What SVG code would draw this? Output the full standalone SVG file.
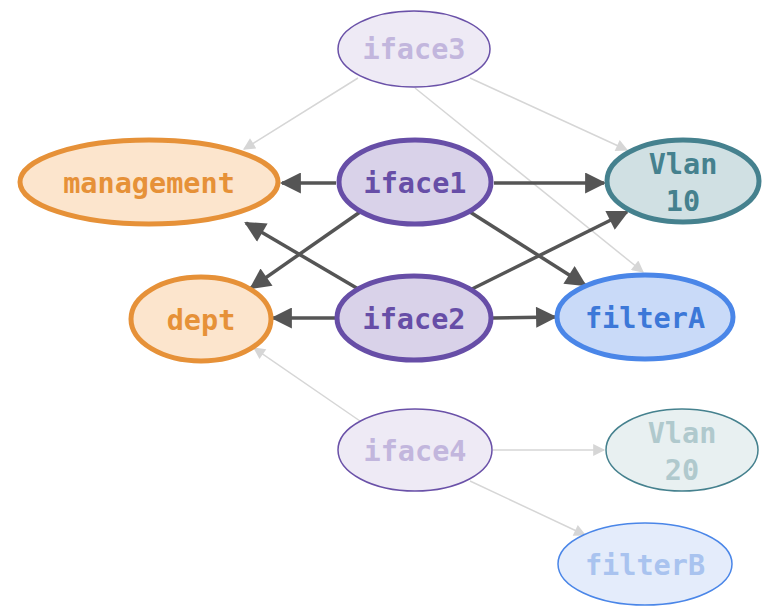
<svg xmlns="http://www.w3.org/2000/svg" width="769" height="607" viewBox="0 0 769 607">
<style>
text{font-family:"DejaVu Sans Mono","Liberation Mono",monospace;font-weight:bold;font-size:28.5px;text-anchor:middle}
.e{stroke:#555;stroke-width:3.5;fill:none}
.l{stroke:#d6d6d6;stroke-width:1.5;fill:none}
</style>
<defs>
<marker id="ad" viewBox="0 0 10 10" refX="9" refY="5" markerWidth="7" markerHeight="6" markerUnits="strokeWidth" orient="auto"><path d="M0,0L10,5L0,10z" fill="#555"/></marker>
<marker id="al" viewBox="0 0 10 10" refX="9" refY="5" markerWidth="10" markerHeight="8" markerUnits="strokeWidth" orient="auto"><path d="M0,0L10,5L0,10z" fill="#d6d6d6"/></marker>
</defs>
<g id="connectors">
<line class="l" x1="358" y1="78" x2="244" y2="149" marker-end="url(#al)"/>
<line class="l" x1="470" y1="78" x2="627" y2="150" marker-end="url(#al)"/>
<line class="l" x1="415" y1="88" x2="643" y2="272" marker-end="url(#al)"/>
<line class="l" x1="360" y1="421" x2="254" y2="348" marker-end="url(#al)"/>
<line class="l" x1="493" y1="450" x2="604" y2="450" marker-end="url(#al)"/>
<line class="l" x1="470" y1="481" x2="585" y2="535" marker-end="url(#al)"/>
<line class="e" x1="336" y1="183" x2="282" y2="183" marker-end="url(#ad)"/>
<line class="e" x1="494" y1="183" x2="604" y2="183" marker-end="url(#ad)"/>
<line class="e" x1="360" y1="212" x2="251" y2="288" marker-end="url(#ad)"/>
<line class="e" x1="470" y1="212" x2="585" y2="285" marker-end="url(#ad)"/>
<line class="e" x1="360" y1="290" x2="246" y2="223" marker-end="url(#ad)"/>
<line class="e" x1="470" y1="290" x2="627" y2="212" marker-end="url(#ad)"/>
<line class="e" x1="336" y1="318" x2="273" y2="318" marker-end="url(#ad)"/>
<line class="e" x1="493" y1="318" x2="555" y2="317" marker-end="url(#ad)"/>
</g>
<g id="iface3"><ellipse cx="414" cy="49" rx="76" ry="38" fill="#eeeaf5" stroke="#6a51a8" stroke-width="1.5"/><text x="414" y="59" fill="#c2b6dd">iface3</text></g>
<g id="management"><ellipse cx="149" cy="182" rx="129" ry="42" fill="#fce5cd" stroke="#e69138" stroke-width="5"/><text x="149" y="193" fill="#e69138">management</text></g>
<g id="iface1"><ellipse cx="415" cy="182" rx="76" ry="42" fill="#d9d2e9" stroke="#674ea7" stroke-width="5"/><text x="415" y="193" fill="#674ea7">iface1</text></g>
<g id="vlan10"><ellipse cx="683" cy="181" rx="76" ry="41" fill="#d0e0e3" stroke="#45818e" stroke-width="5"/><text x="683" y="174" fill="#45818e">Vlan</text><text x="683" y="211" fill="#45818e">10</text></g>
<g id="dept"><ellipse cx="201" cy="319" rx="70" ry="42" fill="#fce5cd" stroke="#e69138" stroke-width="5"/><text x="201" y="330" fill="#e69138">dept</text></g>
<g id="iface2"><ellipse cx="414" cy="318" rx="77" ry="42" fill="#d9d2e9" stroke="#674ea7" stroke-width="5"/><text x="414" y="329" fill="#674ea7">iface2</text></g>
<g id="filterA"><ellipse cx="645" cy="317" rx="88" ry="42" fill="#c9daf8" stroke="#4a86e8" stroke-width="5"/><text x="645" y="328" fill="#3c78d8">filterA</text></g>
<g id="iface4"><ellipse cx="415" cy="450" rx="77" ry="41" fill="#eeeaf5" stroke="#6a51a8" stroke-width="1.5"/><text x="415" y="461" fill="#c2b6dd">iface4</text></g>
<g id="vlan20"><ellipse cx="682" cy="450" rx="76" ry="41" fill="#e8f0f1" stroke="#45818e" stroke-width="1.5"/><text x="682" y="443" fill="#b0c9cd">Vlan</text><text x="682" y="480" fill="#b0c9cd">20</text></g>
<g id="filterB"><ellipse cx="645" cy="564" rx="87" ry="41" fill="#e4ecfb" stroke="#4a86e8" stroke-width="1.5"/><text x="645" y="575" fill="#a9c3ef">filterB</text></g>
</svg>
